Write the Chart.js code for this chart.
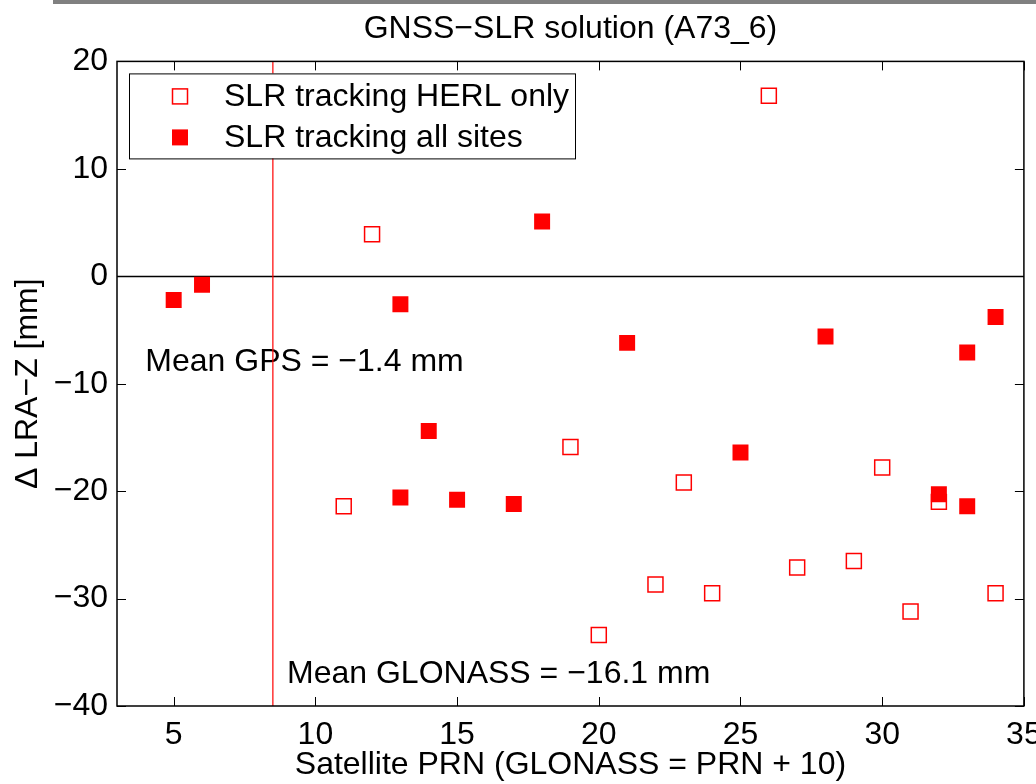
<!DOCTYPE html>
<html lang="en">
<head>
  <meta charset="UTF-8">
  <title>GNSS-SLR solution (A73_6)</title>
  <script src="https://cdn.jsdelivr.net/npm/chart.js"></script>
  <style>
    html, body {
      margin: 0;
      padding: 0;
      background: #fff;
      overflow: hidden;
    }
    .chart-box {
      position: relative;
      width: 1036px;
      height: 784px;
    }
  </style>
</head>
<body>
  <div class="chart-box"><canvas id="lraChart"></canvas></div>
  <script>
    // SLR tracking HERL only (open squares)
    const herlPrn = [11, 12, 19, 20, 22, 23, 24, 26, 27, 29, 30, 31, 32, 34];
    const herlDz  = [-21.4, 3.9, -15.9, -33.4, -28.7, -19.2, -29.5, 16.8, -27.1, -26.5, -17.8, -31.2, -21.0, -29.5];

    // SLR tracking all sites (filled squares)
    const allPrn = [5, 6, 13, 13, 14, 15, 17, 18, 21, 25, 28, 32, 33, 33, 34];
    const allDz  = [-2.2, -0.8, -2.6, -20.6, -14.4, -20.8, -21.2, 5.1, -6.2, -16.4, -5.6, -20.3, -7.1, -21.4, -3.8];

    const xTicks = [5, 10, 15, 20, 25, 30, 35];
    const yTicks = [-40, -30, -20, -10, 0, 10, 20];

    // GPS / GLONASS split and the mean labels
    const splitPrn = 8.5;
    const noteText = ['Mean GPS = \u22121.4 mm', 'Mean GLONASS = \u221216.1 mm'];
    const noteX = [4, 9];
    const noteY = [-8, -37];

    const FONT = '"Liberation Sans", Arial, Helvetica, sans-serif';
    const RED = '#ff0000';

    const minus = v => String(v).replace('-', '\u2212');

    const plotDecor = {
      id: 'plotDecor',
      beforeDatasetsDraw(chart) {
        const { ctx, chartArea: a, scales: { x, y } } = chart;
        ctx.save();
        ctx.beginPath();
        ctx.rect(a.left, a.top, a.width, a.height);
        ctx.clip();

        // notes
        ctx.fillStyle = '#000';
        ctx.font = '32px ' + FONT;
        ctx.textBaseline = 'middle';
        ctx.textAlign = 'left';
        noteText.forEach((t, i) => {
          ctx.fillText(t, x.getPixelForValue(noteX[i]), y.getPixelForValue(noteY[i]));
        });

        // zero line
        const y0 = Math.round(y.getPixelForValue(0)) + 0.5;
        ctx.strokeStyle = '#000';
        ctx.lineWidth = 1.5;
        ctx.beginPath();
        ctx.moveTo(a.left, y0);
        ctx.lineTo(a.right, y0);
        ctx.stroke();

        // split line
        const xs = x.getPixelForValue(splitPrn);
        ctx.strokeStyle = RED;
        ctx.lineWidth = 1.2;
        ctx.beginPath();
        ctx.moveTo(xs, a.top);
        ctx.lineTo(xs, a.bottom);
        ctx.stroke();
        ctx.restore();
      },
      afterDatasetsDraw(chart) {
        const { ctx, chartArea: a, scales: { x, y } } = chart;
        ctx.save();

        // legend box inside the plot
        const bx = a.left + 12, by = a.top + 12, bw = 446, bh = 85;
        ctx.fillStyle = '#fff';
        ctx.fillRect(bx, by, bw, bh);
        ctx.strokeStyle = '#000';
        ctx.lineWidth = 1;
        ctx.strokeRect(bx + 0.5, by + 0.5, bw, bh);
        ctx.font = '32px ' + FONT;
        ctx.textBaseline = 'middle';
        ctx.textAlign = 'left';
        [1, 0].forEach((di, row) => {
          const ds = chart.data.datasets[di];
          const cy = by + 23 + row * 41;
          const cx = bx + 51;
          if (ds.pointBackgroundColor === RED) {
            ctx.fillStyle = RED;
            ctx.fillRect(cx - 8, cy - 8, 16, 16);
          } else {
            ctx.strokeStyle = RED;
            ctx.lineWidth = 1.5;
            ctx.strokeRect(cx - 7.5, cy - 7.5, 15, 15);
          }
          ctx.fillStyle = '#000';
          ctx.fillText(ds.label, bx + 95, cy + 1);
        });

        // frame
        ctx.strokeStyle = '#000';
        ctx.lineWidth = 1.5;
        ctx.strokeRect(a.left, a.top, a.width, a.height);

        // inward ticks on all four sides
        const tl = 9;
        ctx.lineWidth = 1;
        ctx.beginPath();
        xTicks.forEach(v => {
          const px = Math.round(x.getPixelForValue(v)) + 0.5;
          ctx.moveTo(px, a.bottom);
          ctx.lineTo(px, a.bottom - tl);
          ctx.moveTo(px, a.top);
          ctx.lineTo(px, a.top + tl);
        });
        yTicks.forEach(v => {
          const py = Math.round(y.getPixelForValue(v)) + 0.5;
          ctx.moveTo(a.left, py);
          ctx.lineTo(a.left + tl, py);
          ctx.moveTo(a.right, py);
          ctx.lineTo(a.right - tl, py);
        });
        ctx.stroke();

        // grey strip along the top edge of the figure
        ctx.fillStyle = '#808080';
        ctx.fillRect(53, 0, chart.width - 53, 4);
        ctx.restore();
      }
    };

    const ctx = document.getElementById('lraChart').getContext('2d');

    new Chart(ctx, {
      type: 'scatter',
      data: {
        datasets: [
          {
            label: 'SLR tracking all sites',
            data: allPrn.map((p, i) => ({ x: p, y: allDz[i] })),
            pointStyle: 'rect',
            pointRadius: 11.3,
            pointBackgroundColor: RED,
            pointBorderColor: RED,
            pointBorderWidth: 0
          },
          {
            label: 'SLR tracking HERL only',
            data: herlPrn.map((p, i) => ({ x: p, y: herlDz[i] })),
            pointStyle: 'rect',
            pointRadius: 10.6,
            pointBackgroundColor: 'rgba(255,255,255,0)',
            pointBorderColor: RED,
            pointBorderWidth: 1.5
          }
        ]
      },
      options: {
        responsive: true,
        maintainAspectRatio: false,
        animation: false,
        layout: { padding: { left: 0, right: 12, top: 0, bottom: 0 } },
        plugins: {
          legend: { display: false },
          tooltip: { enabled: false },
          title: {
            display: true,
            text: 'GNSS\u2212SLR solution (A73_6)',
            fullSize: false,
            color: '#000',
            font: { family: FONT, size: 32, weight: 'normal', lineHeight: 1.2 },
            padding: { top: 10, bottom: 13 }
          }
        },
        scales: {
          x: {
            type: 'linear',
            min: 3,
            max: 35,
            grid: { display: false, drawTicks: false },
            border: { display: false },
            afterBuildTicks: s => { s.ticks = xTicks.map(v => ({ value: v })); },
            afterFit: s => { s.height = 78; s.paddingRight = 0; s.paddingLeft = 0; },
            ticks: {
              color: '#000',
              padding: 10,
              maxRotation: 0,
              font: { family: FONT, size: 32 },
              callback: v => minus(v)
            },
            title: {
              display: true,
              text: 'Satellite PRN (GLONASS = PRN + 10)',
              color: '#000',
              font: { family: FONT, size: 32, lineHeight: 1.2 },
              padding: { top: 0, bottom: 0 }
            }
          },
          y: {
            type: 'linear',
            min: -40,
            max: 20,
            grid: { display: false, drawTicks: false },
            border: { display: false },
            afterBuildTicks: s => { s.ticks = yTicks.map(v => ({ value: v })); },
            afterFit: s => { s.width = 117; s.paddingTop = 0; s.paddingBottom = 0; },
            ticks: {
              color: '#000',
              padding: 9,
              font: { family: FONT, size: 32 },
              callback: v => minus(v)
            },
            title: {
              display: true,
              text: '\u0394 LRA\u2212Z [mm]',
              color: '#000',
              font: { family: FONT, size: 32, lineHeight: 1.2 },
              padding: { top: 9, bottom: 0 }
            }
          }
        }
      },
      plugins: [plotDecor]
    });
  </script>
</body>
</html>
